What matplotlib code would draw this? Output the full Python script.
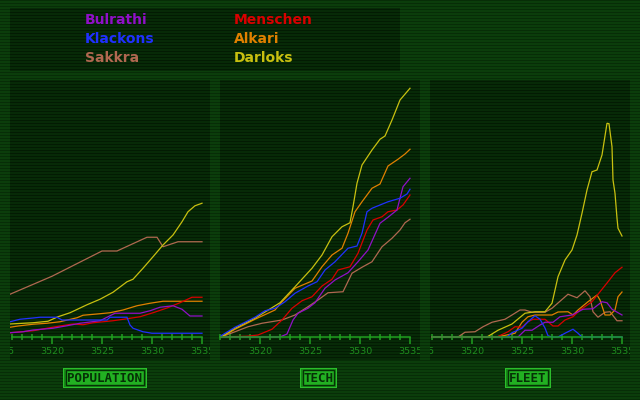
import numpy as np
import matplotlib
matplotlib.use("Agg")
import matplotlib.pyplot as plt
from matplotlib.patches import Rectangle

# ---- races / colours -------------------------------------------------
races = ["Bulrathi", "Klackons", "Sakkra", "Menschen", "Alkari", "Darloks"]
race_colors = ["#9010c8", "#2030ff", "#b06850", "#d80000", "#e08000", "#c8c010"]
draw_order = ["Sakkra", "Alkari", "Darloks", "Menschen", "Bulrathi", "Klackons"]

year_ticks = [3515, 3520, 3525, 3530, 3535]

# ---- POPULATION ------------------------------------------------------
pop_sakkra_x = [3515.8, 3520.0, 3525.0, 3526.5, 3529.5, 3530.5, 3531.1, 3532.6, 3535.0]
pop_sakkra_y = [17.1, 24.3, 34.4, 34.4, 39.9, 39.9, 36.1, 38.1, 38.1]
pop_darloks_x = [3515.8, 3518.1, 3519.6, 3520.6, 3521.8, 3523.5, 3524.8, 3526.1, 3527.5,
                 3528.1, 3529.1, 3530.1, 3531.1, 3532.1, 3533.0, 3533.6, 3534.3, 3535.0]
pop_darloks_y = [5.2, 5.7, 6.3, 8.1, 9.7, 12.9, 15.1, 17.9, 22.1,
                 23.1, 27.5, 32.1, 36.8, 40.8, 46.1, 50.1, 52.5, 53.5]
pop_alkari_x = [3515.8, 3516.6, 3518.1, 3519.5, 3520.8, 3522.5, 3523.1, 3524.5, 3525.8,
                3527.1, 3528.5, 3529.8, 3531.1, 3535.0]
pop_alkari_y = [3.9, 4.4, 5.1, 5.5, 6.1, 7.7, 8.7, 9.2, 9.7, 10.8, 12.5, 13.5, 14.3, 14.3]
pop_menschen_x = [3515.8, 3518.1, 3519.5, 3520.8, 3522.1, 3523.1, 3524.1, 3526.1, 3527.5,
                  3528.8, 3530.1, 3531.5, 3532.8, 3534.0, 3535.0]
pop_menschen_y = [1.7, 2.5, 3.5, 4.4, 5.2, 4.9, 5.7, 6.5, 7.3, 8.1, 9.7, 11.6, 13.7, 15.9, 15.9]
pop_bulrathi_x = [3515.8, 3517.1, 3518.1, 3520.1, 3521.5, 3522.8, 3524.8, 3525.5, 3526.3,
                  3528.8, 3529.8, 3530.8, 3532.1, 3533.0, 3533.8, 3535.0]
pop_bulrathi_y = [1.7, 2.1, 2.8, 3.5, 4.5, 5.5, 6.5, 7.9, 9.5, 9.5, 10.5, 11.9, 12.5, 11.1, 8.4, 8.4]
pop_klackons_x = [3515.8, 3516.8, 3518.1, 3518.8, 3520.5, 3521.0, 3525.5, 3525.8, 3527.5,
                  3527.8, 3528.1, 3529.1, 3530.0, 3535.0]
pop_klackons_y = [6.1, 7.1, 7.6, 7.9, 7.9, 6.8, 6.8, 7.9, 7.9, 4.8, 3.5, 2.1, 1.5, 1.5]

# ---- TECH ------------------------------------------------------------
tech_darloks_x = [3516.1, 3517.5, 3519.5, 3522.0, 3523.5, 3525.2, 3526.2, 3527.2, 3528.2, 3529.0,
                  3529.3, 3529.7, 3530.2, 3531.2, 3532.0, 3532.5, 3533.2, 3534.0, 3535.0]
tech_darloks_y = [0.0, 3.5, 7.5, 13.7, 20.1, 27.5, 32.8, 40.1, 44.1, 45.7,
                  52.1, 61.5, 68.8, 74.8, 79.1, 80.4, 86.8, 94.8, 99.5]
tech_alkari_x = [3516.2, 3517.5, 3519.5, 3521.5, 3522.2, 3523.5, 3525.2, 3526.2, 3527.2, 3528.2,
                 3528.8, 3529.5, 3530.2, 3531.2, 3532.0, 3532.8, 3533.8, 3534.5, 3535.0]
tech_alkari_y = [0.0, 3.1, 7.1, 10.8, 14.1, 19.5, 22.4, 28.1, 32.8, 35.5,
                 41.5, 50.1, 54.1, 59.5, 61.2, 68.4, 71.1, 73.2, 75.1]
tech_klackons_x = [3516.1, 3517.5, 3519.5, 3520.5, 3521.5, 3522.5, 3523.5, 3524.8, 3525.7, 3526.5,
                   3527.5, 3528.8, 3529.7, 3530.2, 3530.7, 3531.2, 3532.8, 3534.0, 3534.7, 3535.0]
tech_klackons_y = [0.5, 3.9, 7.9, 10.5, 11.5, 14.1, 17.5, 20.4, 22.1, 26.8,
                   30.1, 35.5, 36.4, 41.5, 50.1, 51.5, 54.1, 55.5, 57.2, 59.1]
tech_menschen_x = [3516.1, 3518.7, 3519.8, 3521.2, 3522.2, 3523.2, 3524.2, 3525.2, 3526.2, 3527.2,
                   3527.8, 3529.0, 3529.8, 3530.7, 3531.3, 3532.2, 3532.8, 3533.7, 3534.3, 3535.0]
tech_menschen_y = [0.0, 0.3, 0.8, 3.1, 6.8, 11.5, 14.5, 16.1, 20.4, 23.1,
                   26.8, 28.1, 33.5, 42.8, 46.8, 48.1, 50.1, 50.8, 52.8, 56.8]
tech_bulrathi_x = [3516.1, 3522.0, 3522.7, 3523.3, 3523.8, 3524.8, 3525.5, 3526.5, 3527.5, 3528.8,
                   3529.8, 3530.8, 3532.0, 3532.8, 3533.7, 3534.0, 3534.3, 3535.0]
tech_bulrathi_y = [0.0, 0.0, 1.2, 6.8, 9.5, 11.5, 13.7, 19.5, 22.8, 25.7,
                   30.1, 34.8, 45.5, 47.9, 50.8, 55.5, 60.1, 63.5]
tech_sakkra_x = [3516.1, 3517.5, 3518.8, 3520.2, 3522.2, 3523.5, 3524.8, 3525.8, 3526.8, 3528.3,
                 3529.2, 3530.2, 3531.2, 3532.2, 3533.2, 3534.0, 3534.5, 3535.0]
tech_sakkra_y = [0.0, 2.1, 4.1, 5.5, 6.8, 8.8, 12.1, 14.8, 17.7, 18.1,
                 25.5, 27.9, 30.1, 36.1, 39.5, 42.8, 45.7, 47.1]

# ---- FLEET -----------------------------------------------------------
fleet_darloks_x = [3516.0, 3521.5, 3522.6, 3524.0, 3525.3, 3526.3, 3527.3, 3528.0, 3528.6, 3529.3,
                   3530.0, 3530.5, 3531.0, 3531.5, 3532.0, 3532.5, 3533.0, 3533.5, 3533.7, 3534.0,
                   3534.1, 3534.3, 3534.5, 3534.6, 3535.0]
fleet_darloks_y = [0.0, 0.0, 2.7, 5.2, 9.5, 10.1, 10.1, 13.5, 24.1, 30.8,
                   34.8, 40.8, 49.5, 58.8, 66.1, 66.8, 72.8, 85.5, 85.3, 76.1,
                   62.8, 57.5, 47.5, 43.5, 40.4]
fleet_sakkra_x = [3516.0, 3518.6, 3519.3, 3520.3, 3521.1, 3522.0, 3523.3, 3524.0, 3524.8, 3525.3,
                  3526.0, 3527.3, 3528.0, 3529.6, 3530.5, 3531.3, 3531.8, 3532.1, 3532.6, 3533.3,
                  3533.8, 3534.5, 3535.0]
fleet_sakkra_y = [0.0, 0.0, 1.9, 2.1, 4.1, 5.9, 7.1, 8.8, 10.8, 10.8,
                  9.9, 9.9, 11.5, 17.1, 15.7, 18.5, 16.1, 10.1, 7.9, 9.9,
                  10.1, 6.5, 6.5]
fleet_alkari_x = [3516.0, 3522.3, 3523.0, 3524.3, 3525.0, 3525.6, 3526.3, 3528.0, 3528.6, 3529.6,
                  3530.1, 3530.6, 3531.6, 3532.5, 3532.8, 3533.3, 3533.8, 3534.3, 3534.6, 3535.0]
fleet_alkari_y = [0.0, 0.0, 0.4, 1.5, 5.9, 8.1, 8.8, 8.8, 10.0, 10.1,
                  8.8, 10.8, 14.1, 16.8, 14.8, 8.8, 8.8, 10.8, 16.1, 18.0]
fleet_menschen_x = [3516.0, 3522.5, 3523.6, 3524.3, 3525.0, 3525.6, 3526.1, 3527.3, 3528.1, 3528.6,
                    3529.3, 3530.1, 3530.8, 3532.0, 3533.6, 3534.3, 3535.0]
fleet_menschen_y = [0.0, 0.0, 2.1, 4.1, 3.9, 6.1, 7.1, 7.1, 4.4, 4.4,
                    6.8, 8.1, 10.8, 14.1, 22.1, 25.7, 27.9]
fleet_bulrathi_x = [3516.0, 3524.6, 3525.3, 3526.0, 3526.8, 3527.3, 3528.1, 3528.8, 3530.0, 3531.1,
                    3532.1, 3533.0, 3533.5, 3534.0, 3535.0]
fleet_bulrathi_y = [0.0, 0.0, 2.7, 2.7, 4.8, 5.9, 5.9, 8.1, 8.8, 11.1,
                    11.3, 14.1, 13.7, 11.1, 8.8]
fleet_klackons_x = [3523.5, 3524.0, 3525.0, 3525.6, 3526.3, 3526.8, 3527.3, 3527.6, 3528.0, 3528.6,
                    3529.3, 3530.1, 3530.6, 3531.0, 3535.0]
fleet_klackons_y = [0.0, 1.7, 3.5, 6.1, 8.5, 7.1, 3.6, 0.5, 0.0, 0.0,
                    1.5, 3.1, 1.5, 0.0, 0.0]

panels = [
    ("POPULATION", {
        "Bulrathi": (pop_bulrathi_x, pop_bulrathi_y), "Klackons": (pop_klackons_x, pop_klackons_y),
        "Sakkra": (pop_sakkra_x, pop_sakkra_y), "Menschen": (pop_menschen_x, pop_menschen_y),
        "Alkari": (pop_alkari_x, pop_alkari_y), "Darloks": (pop_darloks_x, pop_darloks_y)}),
    ("TECH", {
        "Bulrathi": (tech_bulrathi_x, tech_bulrathi_y), "Klackons": (tech_klackons_x, tech_klackons_y),
        "Sakkra": (tech_sakkra_x, tech_sakkra_y), "Menschen": (tech_menschen_x, tech_menschen_y),
        "Alkari": (tech_alkari_x, tech_alkari_y), "Darloks": (tech_darloks_x, tech_darloks_y)}),
    ("FLEET", {
        "Bulrathi": (fleet_bulrathi_x, fleet_bulrathi_y), "Klackons": (fleet_klackons_x, fleet_klackons_y),
        "Sakkra": (fleet_sakkra_x, fleet_sakkra_y), "Menschen": (fleet_menschen_x, fleet_menschen_y),
        "Alkari": (fleet_alkari_x, fleet_alkari_y), "Darloks": (fleet_darloks_x, fleet_darloks_y)}),
]

W, H = 640, 400
green_axis = "#20a020"
green_text = "#1e8c1e"

# panel boxes in screen pixels (left, top, right, bottom) + x offset of the year scale
panel_boxes = [(10, 80, 210, 360, 3515.8), (220, 80, 420, 360, 3516.0), (430, 80, 630, 360, 3515.8)]
legend_box = (10, 8, 400, 71)
buttons = [(105, 84), (318.5, 37), (528, 46)]


def hexrgb(h):
    return [int(h[i:i + 2], 16) / 255 for i in (1, 3, 5)]


# scanline backdrop
rows = np.arange(H)
img = np.zeros((H, W, 3))
img[:] = hexrgb("#0b3d0b")
img[rows % 3 == 0] = hexrgb("#072d07")
for (l, t, r, b) in [p[:4] for p in panel_boxes] + [legend_box]:
    for yy in range(t, b):
        img[yy, l:r] = hexrgb("#031b03") if yy % 3 == 0 else hexrgb("#072a07")

fig = plt.figure(figsize=(6.4, 4.0), dpi=100)
bg = fig.add_axes([0, 0, 1, 1])
bg.imshow(img, extent=(0, W, H, 0), interpolation="nearest", aspect="auto")
bg.set_xlim(0, W)
bg.set_ylim(H, 0)
bg.axis("off")

# legend text
for i, (name, col) in enumerate(zip(races, race_colors)):
    col_x = 85 if i < 3 else 234
    base_y = [24, 43.3, 62.3][i % 3]
    bg.text(col_x, base_y, name, color=col, fontsize=10, fontweight="bold",
            family="DejaVu Sans", ha="left", va="baseline")

# bottom buttons
for (cx, bw), (title, _) in zip(buttons, panels):
    top, bh = 367.5, 20.5
    bg.add_patch(Rectangle((cx - bw / 2, top), bw, bh, facecolor="#2cbe2c", edgecolor="none"))
    bg.add_patch(Rectangle((cx - bw / 2 + 1.2, top + 1.2), bw - 2.4, bh - 2.4,
                           facecolor="#168a16", edgecolor="none"))
    bg.add_patch(Rectangle((cx - bw / 2 + 2.8, top + 2.8), bw - 5.6, bh - 5.6,
                           facecolor="#22b022", edgecolor="#063006", linewidth=1.0))
    bg.text(cx, top + bh / 2 + 0.5, title, color="#063006", fontsize=9, fontweight="bold",
            family="DejaVu Sans Mono", ha="center", va="center")

# the three charts
px_per_unit = 2.5   # 100 units = 250 px above the baseline
base_px = 337
for (l, t, r, b, x0), (title, series) in zip(panel_boxes, panels):
    ax = fig.add_axes([l / W, 1 - b / H, (r - l) / W, (b - t) / H])
    ax.set_facecolor("none")
    x_lo, x_hi = x0, x0 + (r - l) / 10
    ax.set_xlim(x_lo, x_hi)
    ax.set_ylim(-(b - base_px) / px_per_unit, (base_px - t) / px_per_unit)
    for s in ["top", "left", "right"]:
        ax.spines[s].set_visible(False)
    ax.spines["bottom"].set_position(("data", 0))
    ax.spines["bottom"].set_bounds(3516, 3535)
    ax.spines["bottom"].set_color(green_axis)
    ax.spines["bottom"].set_linewidth(1.1)
    ax.set_xticks(year_ticks[1:])
    ax.set_xticks(range(3516, 3536), minor=True)
    ax.tick_params(which="major", direction="out", length=5.2, width=1.1, color=green_axis,
                   labelbottom=False)
    ax.tick_params(which="minor", direction="inout", length=4.0, width=1.1, color=green_axis)
    ax.set_yticks([])

    for name in draw_order:
        xs, ys = series[name]
        ax.plot(xs, ys, color=race_colors[races.index(name)], lw=0.9, solid_joinstyle="miter")

    # year labels, clipped by the panel edge like the original screen
    for yr in year_ticks:
        if yr + 0.8 < x_lo:
            continue   # entirely outside this panel
        ax.text(yr, -14 / px_per_unit, str(yr), color=green_text, fontsize=6.8,
                ha="center", va="center", clip_on=True)

fig.savefig("out.png", dpi=100)
